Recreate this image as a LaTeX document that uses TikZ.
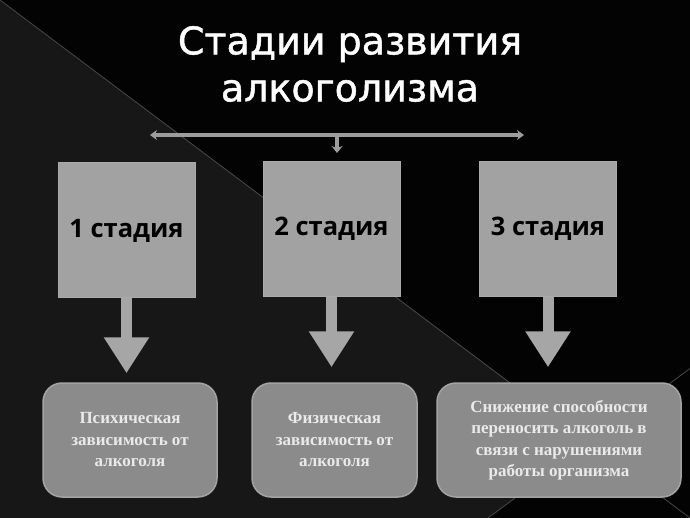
\documentclass[tikz,border=0pt]{standalone}
\usepackage{fontspec}
\setmainfont{Liberation Serif}
\newfontfamily\titlefont[FakeBold=1.3]{DejaVu Sans}
\newfontfamily\stagefont{Open Sans}
\usetikzlibrary{arrows.meta,calc}
\definecolor{bgblack}{HTML}{030303}
\definecolor{bggray}{HTML}{171717}
\definecolor{diagline}{HTML}{484848}
\definecolor{boxgray}{HTML}{A2A2A2}
\definecolor{boxedge}{HTML}{ABABAB}
\definecolor{rboxgray}{HTML}{8B8B8B}
\definecolor{rboxedge}{HTML}{A3A3A3}
\definecolor{arrowgray}{HTML}{A6A6A6}
\definecolor{linegray}{HTML}{9C9C9C}
\definecolor{rtext}{HTML}{EAEAEA}
\tikzset{
  stagebox/.style={draw=boxedge, line width=1pt, fill=boxgray, minimum width=137pt, minimum height=135pt, inner sep=0pt,
    font=\stagefont\bfseries\fontsize{25.5}{28}\selectfont, text=black},
  resultbox/.style={draw=rboxedge, line width=1.5pt, fill=rboxgray, rounded corners=19pt, minimum height=114pt, inner sep=2pt,
    align=center, font=\bfseries\fontsize{17}{21.5}\selectfont, text=rtext},
  blockarrow/.style={draw=arrowgray, line width=11pt, -{Triangle[width=43pt,length=36pt]}},
  thinarrow/.style={draw=linegray, line width=3.5pt, {Stealth[width=10pt,length=7pt]}-{Stealth[width=10pt,length=7pt]}},
  downarrow/.style={draw=linegray, line width=3.5pt, -{Stealth[width=11pt,length=7pt]}},
  titletext/.style={text=white, font=\titlefont\fontsize{38}{47}\selectfont, align=center, inner sep=0pt}
}
\begin{document}
\begin{tikzpicture}[x=1pt,y=-1pt]
\useasboundingbox (0,0) rectangle (690,518);
% background
\fill[bgblack] (0,0) rectangle (690,518);
\fill[bggray] (0,0) -- (590,442.5) -- (488,518) -- (0,518) -- cycle;
\draw[diagline, line width=0.8pt] (0,0) -- (690,518);
\draw[diagline, line width=0.8pt] (488,518) -- (690,368.5);
% title
\node[titletext] (title) at (350,64) {Стадии развития\\алкоголизма};
% top connector
\coordinate (hl) at (150,135);
\coordinate (hr) at (524,135);
\coordinate (hm) at (337,135);
\coordinate (hd) at (337,153);
\draw[thinarrow] (hl) -- (hr);
\draw[downarrow] (hm) -- (hd);
% stage boxes
\node[stagebox] (b1) at (126.5,230.5) {1 стадия};
\node[stagebox] (b2) at (331.5,229) {2 стадия};
\node[stagebox] (b3) at (548,229) {3 стадия};
% result boxes
\node[resultbox, minimum width=174pt] (r1) at (130,440) {Психическая\\зависимость от\\алкоголя};
\node[resultbox, minimum width=165pt] (r2) at (334.5,440) {Физическая\\зависимость от\\алкоголя};
\node[resultbox, minimum width=244pt] (r3) at (559,440) {Снижение способности\\переносить алкоголь в\\связи с нарушениями\\работы организма};
% block arrows
\draw[blockarrow, shorten >=9pt] (b1.south) -- (b1.south |- r1.north);
\draw[blockarrow, shorten >=15pt] (b2.south) -- (b2.south |- r2.north);
\draw[blockarrow, shorten >=15pt] (b3.south) -- (b3.south |- r3.north);
\end{tikzpicture}
\end{document}
